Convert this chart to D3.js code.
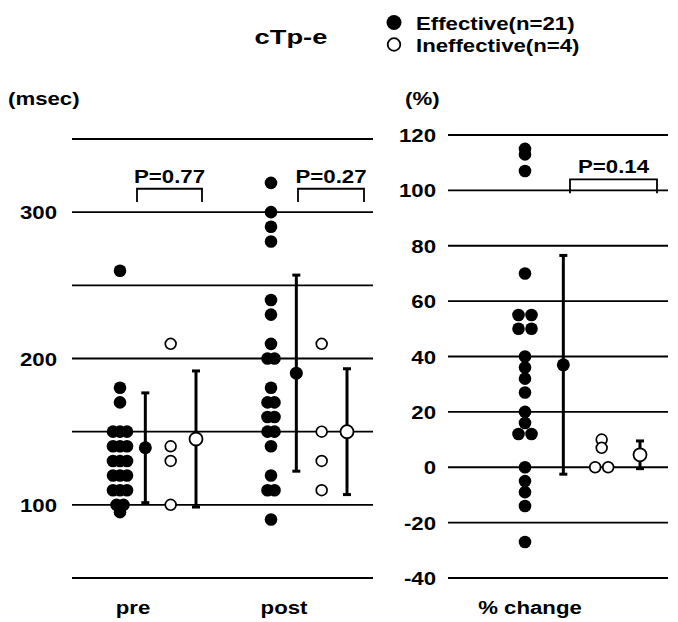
<!DOCTYPE html>
<html>
<head>
<meta charset="utf-8">
<script src="https://cdn.jsdelivr.net/npm/d3@7"></script>
<style>
  body { margin: 0; background: #fff; }
  text { font-family: "Liberation Sans", Arial, sans-serif; font-weight: bold; fill: #000; }
</style>
</head>
<body>
<div id="chart"></div>
<script>
// data
const categories = ["pre", "post"];
const changeCategory = "% change";

const preEffective = [260, 180, 170, 150, 150, 150, 140, 140, 140, 130, 130, 130, 120, 120, 120, 110, 110, 110, 100, 100, 95];
const preIneffective = [210, 140, 130, 100];
const postEffective = [320, 300, 290, 280, 240, 230, 210, 200, 200, 180, 170, 170, 160, 160, 150, 150, 140, 120, 110, 110, 90];
const postIneffective = [210, 150, 130, 110];
const changeEffective = [115, 113, 107, 70, 55, 55, 50, 50, 40, 36, 32, 27, 20, 16, 12, 12, 0, -5, -9, -14, -27];
const changeIneffective = [10, 7, 0, 0];

// mean and SD (pre, post)
const effectiveMean = [139, 190];
const effectiveSD = [37.5, 67];
const ineffectiveMean = [145, 150];
const ineffectiveSD = [46.5, 43];
// mean and SD (% change: effective, ineffective)
const changeMean = [37, 4.5];
const changeSD = [39.5, 5];

const msecGrid = [50, 100, 150, 200, 250, 300, 350];
const msecLabels = [100, 200, 300];
const pctGrid = [-40, -20, 0, 20, 40, 60, 80, 100, 120];

const pValues = ["P=0.77", "P=0.27"];
const pChange = "P=0.14";

const legendLabels = ["Effective(n=21)", "Ineffective(n=4)"];

// svg
const width = 678, height = 622;
const svg = d3.select("#chart").append("svg")
    .attr("width", width)
    .attr("height", height);
svg.append("rect").attr("width", width).attr("height", height).attr("fill", "#fff");

// scales
const yL = d3.scaleLinear().domain([50, 350]).range([578, 139]);
const yR = d3.scaleLinear().domain([-40, 120]).range([578, 135]);
const xL = d3.scalePoint().domain(categories).range([158, 309]);
const xR = d3.scalePoint().domain([changeCategory]).range([583, 583]);
const subL = d3.scalePoint().domain(["effDots", "effMean", "inDots", "inMean"]).range([-38, 38]);
const subR = d3.scalePoint().domain(["effDots", "effMean", "inDots", "inMean"]).range([-58, 57]);

// stretched bold text, like the scanned figure
function label(x, y, txt, anchor, size, sx) {
    return svg.append("text")
        .attr("transform", `translate(${x},${y}) scale(${sx || 1.17},1)`)
        .attr("text-anchor", anchor || "start")
        .attr("font-size", size || 19)
        .text(txt);
}

// spread equal values sideways
function spread(values, spacing) {
    const counts = d3.rollup(values, v => v.length, d => d);
    const seen = new Map();
    return values.map(v => {
        const n = counts.get(v), i = seen.get(v) || 0;
        seen.set(v, i + 1);
        return { v: v, dx: (i - (n - 1) / 2) * spacing };
    });
}

// grid lines
svg.selectAll(".gridL").data(msecGrid).enter().append("line")
    .attr("x1", 72).attr("x2", 373)
    .attr("y1", d => yL(d)).attr("y2", d => yL(d))
    .attr("stroke", "#000").attr("stroke-width", 1.8);
svg.selectAll(".gridR").data(pctGrid).enter().append("line")
    .attr("x1", 448).attr("x2", 668)
    .attr("y1", d => yR(d)).attr("y2", d => yR(d))
    .attr("stroke", "#000").attr("stroke-width", 1.8);

// tick labels
msecLabels.forEach(d => label(57, yL(d) + 7, d, "end"));
pctGrid.forEach(d => label(436, yR(d) + 7, d, "end"));
label(8, 105, "(msec)");
label(405, 105, "(%)");

// category labels
categories.forEach(c => label(xL(c) - 25, 614, c, "middle"));
label(xR(changeCategory) - 53, 614, changeCategory, "middle");

// title and legend
label(291, 44, "cTp-e", "middle", 21, 1.3);
svg.append("circle").attr("cx", 394).attr("cy", 22.5).attr("r", 7.5).attr("fill", "#000");
svg.append("circle").attr("cx", 394).attr("cy", 44.5).attr("r", 6.3)
    .attr("fill", "#fff").attr("stroke", "#000").attr("stroke-width", 1.8);
label(416, 30, legendLabels[0], "start", 19, 1.17);
label(416, 51.5, legendLabels[1], "start", 19, 1.17);

// dots
function dots(values, cx, y, filled, spacing) {
    svg.append("g").selectAll("circle")
        .data(spread(values, spacing))
        .enter().append("circle")
        .attr("cx", d => cx + d.dx)
        .attr("cy", d => y(d.v))
        .attr("r", filled ? 6.3 : 5.4)
        .attr("fill", filled ? "#000" : "#fff")
        .attr("stroke", "#000")
        .attr("stroke-width", filled ? 0 : 1.7);
}

// mean +/- SD
function meanBar(m, sd, cx, y, filled) {
    const g = svg.append("g").attr("stroke", "#000").attr("stroke-width", 3);
    g.append("line").attr("x1", cx).attr("x2", cx).attr("y1", y(m - sd)).attr("y2", y(m + sd));
    [m - sd, m + sd].forEach(v => {
        g.append("line").attr("x1", cx - 4).attr("x2", cx + 4).attr("y1", y(v)).attr("y2", y(v));
    });
    svg.append("circle").attr("cx", cx).attr("cy", y(m))
        .attr("r", 6.5)
        .attr("fill", filled ? "#000" : "#fff")
        .attr("stroke", "#000").attr("stroke-width", filled ? 0 : 1.8);
}

const leftData = [
    { eff: preEffective, inef: preIneffective },
    { eff: postEffective, inef: postIneffective }
];
categories.forEach((c, i) => {
    const cx = xL(c);
    dots(leftData[i].eff, cx + subL("effDots"), yL, true, 7);
    dots(leftData[i].inef, cx + subL("inDots"), yL, false, 7);
    meanBar(effectiveMean[i], effectiveSD[i], cx + subL("effMean"), yL, true);
    meanBar(ineffectiveMean[i], ineffectiveSD[i], cx + subL("inMean"), yL, false);
});

const cR = xR(changeCategory);
dots(changeEffective, cR + subR("effDots"), yR, true, 13);
dots(changeIneffective, cR + subR("inDots"), yR, false, 13);
meanBar(changeMean[0], changeSD[0], cR + subR("effMean"), yR, true);
meanBar(changeMean[1], changeSD[1], cR + subR("inMean"), yR, false);

// P value brackets
function bracket(x1, x2, yTop, yBot, txt) {
    svg.append("path")
        .attr("d", `M${x1},${yBot}V${yTop}H${x2}V${yBot}`)
        .attr("fill", "none").attr("stroke", "#000").attr("stroke-width", 1.8);
    label((x1 + x2) / 2, yTop - 6, txt, "middle");
}
bracket(xL("pre") - 21, xL("pre") + 44, yL(316), yL(307), pValues[0]);
bracket(xL("post") - 11, xL("post") + 55, yL(316), yL(307), pValues[1]);
bracket(cR - 13, cR + 74, yR(104), yR(99), pChange);
</script>
</body>
</html>
